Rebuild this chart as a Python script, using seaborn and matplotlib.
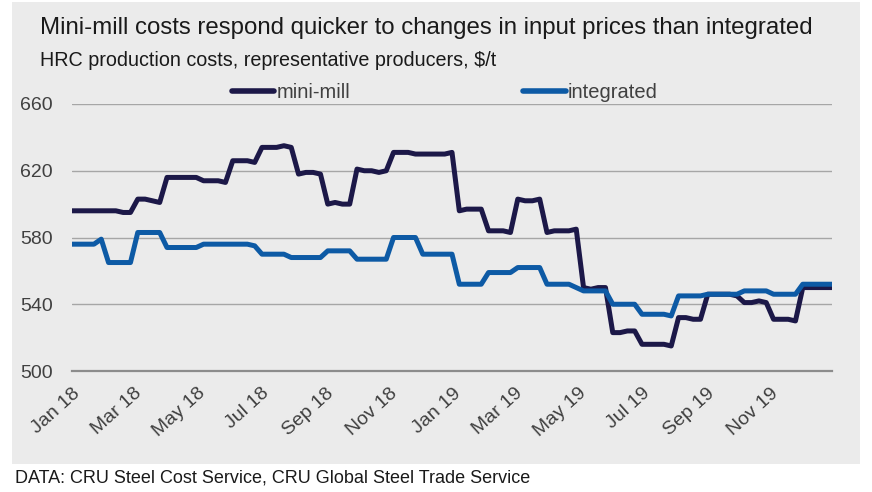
import pandas as pd
import matplotlib.pyplot as plt
import matplotlib.dates as mdates
from matplotlib.patches import Rectangle
import seaborn as sns

# weekly cost estimates, $/t
weeks = pd.date_range("2018-01-01", periods=105, freq="7D")

mini_mill = [
    596, 596, 596, 596, 596, 596, 596, 595, 595, 603,
    603, 602, 601, 616, 616, 616, 616, 616, 614, 614,
    614, 613, 626, 626, 626, 625, 634, 634, 634, 635,
    634, 618, 619, 619, 618, 600, 601, 600, 600, 621,
    620, 620, 619, 620, 631, 631, 631, 630, 630, 630,
    630, 630, 631, 596, 597, 597, 597, 584, 584, 584,
    583, 603, 602, 602, 603, 583, 584, 584, 584, 585,
    550, 549, 550, 550, 523, 523, 524, 524, 516, 516,
    516, 516, 515, 532, 532, 531, 531, 546, 546, 546,
    546, 545, 541, 541, 542, 541, 531, 531, 531, 530,
    550, 550, 550, 550, 550,
]
integrated = [
    576, 576, 576, 576, 579, 565, 565, 565, 565, 583,
    583, 583, 583, 574, 574, 574, 574, 574, 576, 576,
    576, 576, 576, 576, 576, 575, 570, 570, 570, 570,
    568, 568, 568, 568, 568, 572, 572, 572, 572, 567,
    567, 567, 567, 567, 580, 580, 580, 580, 570, 570,
    570, 570, 570, 552, 552, 552, 552, 559, 559, 559,
    559, 562, 562, 562, 562, 552, 552, 552, 552, 550,
    548, 548, 548, 548, 540, 540, 540, 540, 534, 534,
    534, 534, 533, 545, 545, 545, 545, 546, 546, 546,
    546, 546, 548, 548, 548, 548, 546, 546, 546, 546,
    552, 552, 552, 552, 552,
]
series_names = ["mini-mill", "integrated"]
y_ticks = [500, 540, 580, 620, 660]

df = pd.concat([
    pd.DataFrame({"date": weeks, "cost": mini_mill, "series": series_names[0]}),
    pd.DataFrame({"date": weeks, "cost": integrated, "series": series_names[1]}),
])

sns.set_style("white")
plt.rcParams["font.family"] = ["Liberation Sans", "DejaVu Sans"]

bg = "#ebebeb"
fig = plt.figure(figsize=(8.72, 4.92), dpi=100)
fig.patches.append(Rectangle((12 / 872, 1 - 464 / 492), 848 / 872, 462 / 492,
                             transform=fig.transFigure, facecolor=bg,
                             edgecolor="none", zorder=-10))
ax = fig.add_axes([72 / 872, 1 - 371 / 492, 760 / 872, 267 / 492])
ax.set_facecolor(bg)

sns.lineplot(data=df, x="date", y="cost", hue="series", ax=ax,
             palette={"mini-mill": "#1c1848", "integrated": "#0d5aa5"},
             linewidth=3.6, legend=True)

ax.set_ylim(500, 660)
ax.set_xlim(weeks[0], weeks[-1])
ax.set_yticks(y_ticks)
ax.yaxis.grid(True, color="#a6a6a6", linewidth=1.0)
ax.set_axisbelow(True)
for s in ["top", "right", "left"]:
    ax.spines[s].set_visible(False)
ax.spines["bottom"].set_color("#8c8c8c")
ax.spines["bottom"].set_linewidth(1.6)

ax.xaxis.set_major_locator(mdates.MonthLocator(bymonth=[1, 3, 5, 7, 9, 11]))
ax.xaxis.set_major_formatter(mdates.DateFormatter("%b %y"))
ax.tick_params(axis="x", direction="out", length=5, width=1.4, color="#8c8c8c",
               labelsize=14, labelcolor="#404040", pad=5)
ax.tick_params(axis="y", length=0, labelsize=14, labelcolor="#404040", pad=14)
for lab in ax.get_xticklabels():
    lab.set_rotation(42)
    lab.set_ha("right")
    lab.set_va("top")
    lab.set_rotation_mode("anchor")

ax.set_xlabel("")
ax.set_ylabel("")

leg = ax.legend(ncol=2, frameon=False, loc="center left",
                bbox_to_anchor=(232 / 872, 1 - 93 / 492),
                bbox_transform=fig.transFigure, fontsize=14.5,
                handlelength=2.1, handletextpad=0.1, columnspacing=8.6,
                borderaxespad=0, borderpad=0)
for line in leg.get_lines():
    line.set_linewidth(4)
for t in leg.get_texts():
    t.set_color("#404040")

fig.text(40 / 872, 1 - 28 / 492,
         "Mini-mill costs respond quicker to changes in input prices than integrated",
         fontsize=17.3, color="#1a1a1a", va="center", ha="left")
fig.text(40 / 872, 1 - 61 / 492,
         "HRC production costs, representative producers, $/t",
         fontsize=14.2, color="#1a1a1a", va="center", ha="left")
fig.text(15 / 872, 1 - 478 / 492,
         "DATA: CRU Steel Cost Service, CRU Global Steel Trade Service",
         fontsize=13, color="#1a1a1a", va="center", ha="left")

fig.savefig("out.png", dpi=100, facecolor="white")
